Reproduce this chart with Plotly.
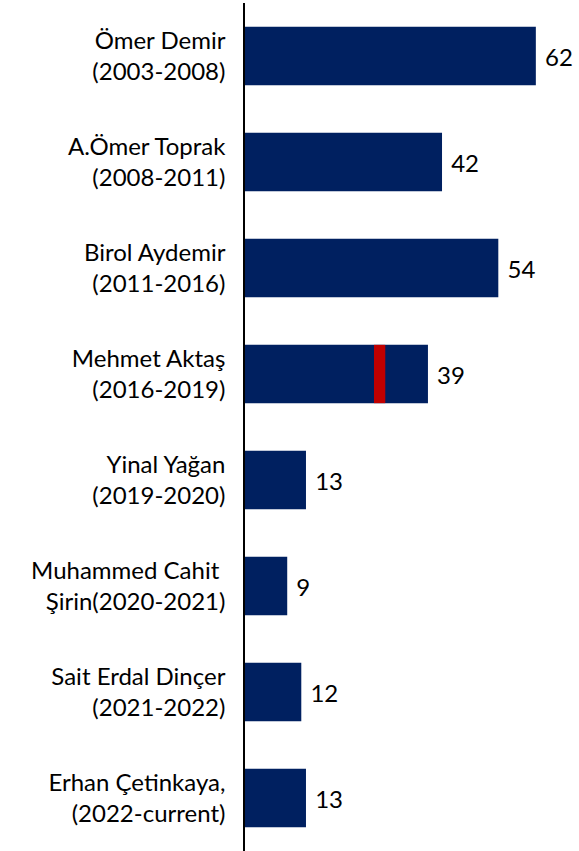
import plotly.graph_objects as go

names = ["Ömer Demir<br>(2003-2008)", "A.Ömer Toprak<br>(2008-2011)", "Birol Aydemir<br>(2011-2016)",
         "Mehmet Aktaş<br>(2016-2019)", "Yinal Yağan<br>(2019-2020)", "Muhammed Cahit <br>Şirin(2020-2021)",
         "Sait Erdal Dinçer<br>(2021-2022)", "Erhan Çetinkaya,<br>(2022-current)"]
values = [62, 42, 54, 39, 13, 9, 12, 13]

marker_category = ["Mehmet Aktaş<br>(2016-2019)"]
marker_start = [27.5]
marker_width = [2.4]

NAVY = "#002060"
RED = "#C00000"
FONT = "Lato"

fig = go.Figure()
fig.add_trace(go.Bar(
    y=names, x=values, orientation="h", marker=dict(color=NAVY, line=dict(width=0)),
    text=[" " + str(v) for v in values], textposition="outside", cliponaxis=False,
    textfont=dict(family=FONT, size=24, color="black"), showlegend=False, hoverinfo="skip"))
fig.add_trace(go.Bar(
    y=marker_category, x=marker_width, base=marker_start, orientation="h",
    marker=dict(color=RED, line=dict(width=0)), showlegend=False, hoverinfo="skip"))

fig.update_layout(
    width=579, height=851, barmode="overlay", bargap=0.45,
    margin=dict(l=245, r=0, t=3, b=0, autoexpand=False),
    plot_bgcolor="white", paper_bgcolor="white",
    font=dict(family=FONT, size=24, color="black"),
    xaxis=dict(range=[0, 71.2], visible=False, showgrid=False, zeroline=False, automargin=False),
    yaxis=dict(autorange="reversed", showline=True, linecolor="black", linewidth=1.5,
               ticks="", showgrid=False, ticklabelstandoff=13, automargin=False,
               tickfont=dict(family=FONT, size=24, color="black")),
)
fig.write_html("out.html", config={"displayModeBar": False},
               post_script="document.body.style.margin='0';document.body.style.overflow='hidden';")
